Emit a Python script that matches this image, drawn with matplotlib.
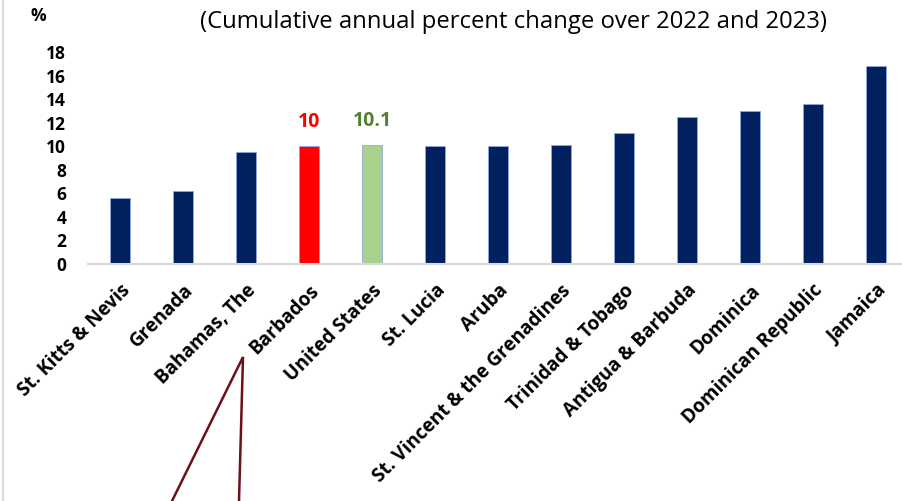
import matplotlib
matplotlib.use("Agg")
import matplotlib.pyplot as plt
from matplotlib.lines import Line2D

plt.rcParams["font.family"] = ["Open Sans", "DejaVu Sans"]

countries = ["St. Kitts & Nevis", "Grenada", "Bahamas, The", "Barbados", "United States",
             "St. Lucia", "Aruba", "St. Vincent & the Grenadines", "Trinidad & Tobago",
             "Antigua & Barbuda", "Dominica", "Dominican Republic", "Jamaica"]
values = [5.6, 6.2, 9.5, 10.0, 10.1, 10.0, 10.0, 10.1, 11.1, 12.5, 13.0, 13.6, 16.8]
yticks = [0, 2, 4, 6, 8, 10, 12, 14, 16, 18]

NAVY = "#002060"
highlight = {"Barbados": ("#FF0000", "#FF0000"), "United States": ("#A9D18E", "#548235")}

W, H = 903, 501
fig = plt.figure(figsize=(W / 100, H / 100), dpi=100)
# axes runs slightly past the right edge, like the source slide crop
ax = fig.add_axes([88.5 / W, 1 - 264 / H, 819 / W, 212 / H])

x = range(len(countries))
colors = [highlight.get(c, (NAVY, None))[0] for c in countries]
ax.bar(x, values, width=0.32, color=colors, edgecolor="#8EA9DB", linewidth=0.6, zorder=2)

for i, (c, v) in enumerate(zip(countries, values)):
    if c in highlight:
        lbl = f"{v:g}"
        ax.annotate(lbl, (i, v), xytext=(0, 10), textcoords="offset points",
                    ha="center", va="bottom", fontsize=14, fontweight="bold",
                    color=highlight[c][1])

ax.set_xlim(-0.5, len(countries) - 0.5)
ax.set_ylim(0, 18)
ax.set_yticks(yticks)
ax.set_yticklabels([str(t) for t in yticks], fontsize=12.5, fontweight="bold")
ax.set_xticks(list(x))
ax.set_xticklabels(countries, rotation=45, ha="right", va="top",
                   rotation_mode="anchor", fontsize=13.7, fontweight="bold")
ax.tick_params(axis="y", length=0, pad=16)
ax.tick_params(axis="x", length=0, pad=12)
for side in ["left", "right", "top"]:
    ax.spines[side].set_visible(False)
ax.spines["bottom"].set_color("#D9D9D9")
ax.spines["bottom"].set_linewidth(1.5)

fig.text(514 / W, 1 - 22 / H, "(Cumulative annual percent change over 2022 and 2023)",
         ha="center", va="center", fontsize=17.2)
fig.text(38 / W, 1 - 16 / H, "%", ha="center", va="center", fontsize=12.5, fontweight="bold")

# slide border on the left and callout pointer under Barbados
fig.add_artist(Line2D([3.5 / W, 3.5 / W], [0, 1], color="#D9D9D9", lw=1.5))
fig.add_artist(Line2D([172 / W, 243 / W, 239 / W], [0, 1 - 357 / H, 0],
                      color="#6B0F1A", lw=1.8, solid_joinstyle="miter"))

fig.savefig("out.png", dpi=100)
